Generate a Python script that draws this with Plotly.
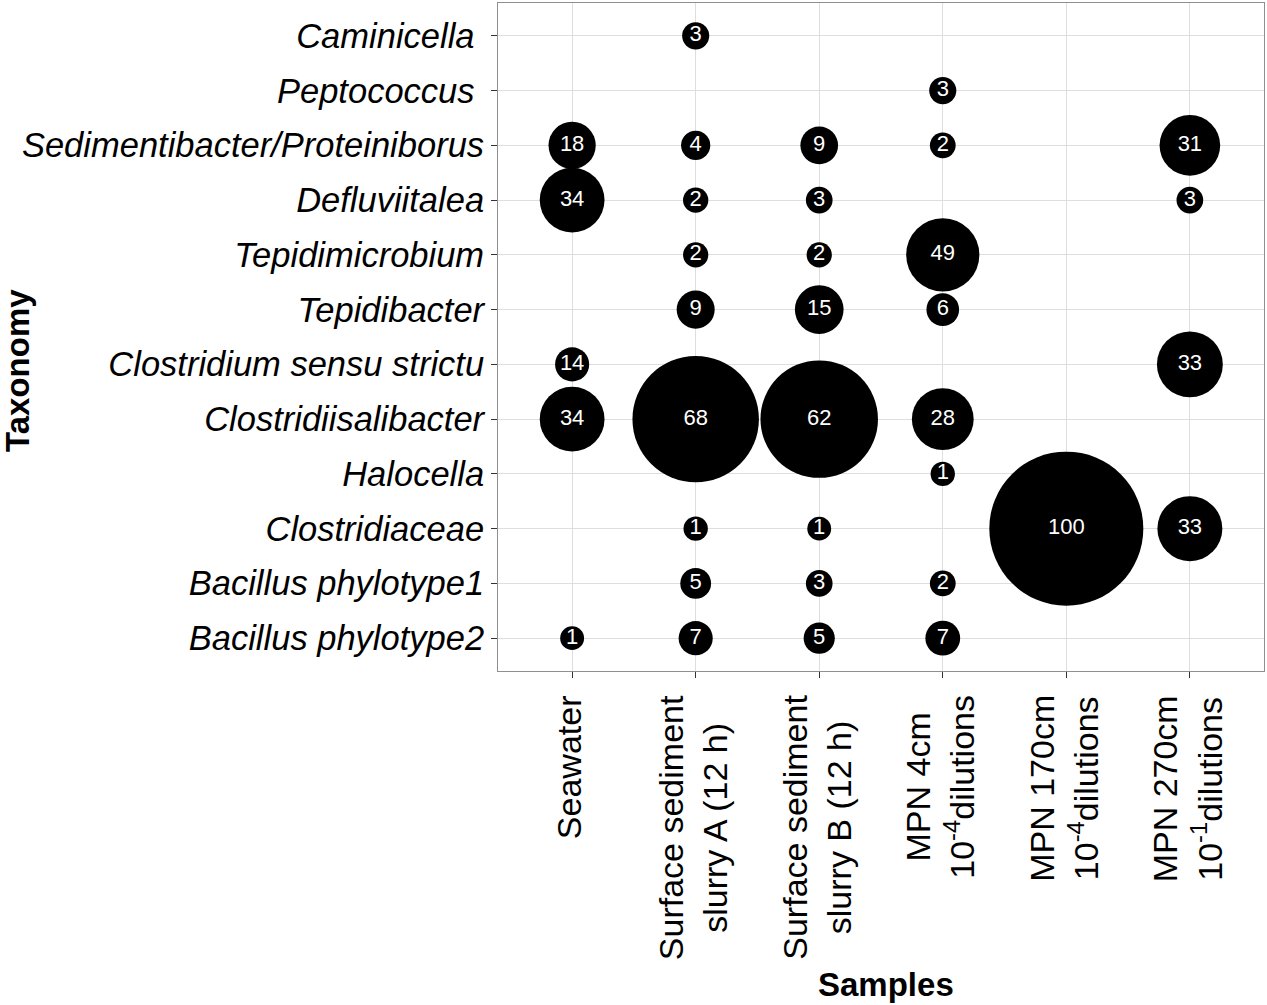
import plotly.graph_objects as go

# ---------------- data ----------------
samples = ["Seawater", "Surface sediment slurry A (12 h)", "Surface sediment slurry B (12 h)",
           "MPN 4cm 10-4 dilutions", "MPN 170cm 10-4 dilutions", "MPN 270cm 10-1 dilutions"]
sample_tick_labels = ["Seawater",
                      "Surface sediment<br>slurry A (12 h)",
                      "Surface sediment<br>slurry B (12 h)",
                      "MPN 4cm<br>10<sup>-4</sup>dilutions",
                      "MPN 170cm<br>10<sup>-4</sup>dilutions",
                      "MPN 270cm<br>10<sup>-1</sup>dilutions"]

# taxa, listed from top to bottom
taxa = ["Caminicella", "Peptococcus", "Sedimentibacter/Proteiniborus", "Defluviitalea",
        "Tepidimicrobium", "Tepidibacter", "Clostridium sensu strictu", "Clostridiisalibacter",
        "Halocella", "Clostridiaceae", "Bacillus phylotype1", "Bacillus phylotype2"]
taxa_tick_labels = ["Caminicella\u00a0", "Peptococcus\u00a0", "Sedimentibacter/Proteiniborus",
                    "Defluviitalea", "Tepidimicrobium", "Tepidibacter", "Clostridium sensu strictu",
                    "Clostridiisalibacter", "Halocella", "Clostridiaceae", "Bacillus phylotype1",
                    "Bacillus phylotype2"]

N = None
# percentage labels shown in the bubbles (rows = taxa, cols = samples)
caminicella          = [N, 3, N, N, N, N]
peptococcus          = [N, N, N, 3, N, N]
sedimentibacter      = [18, 4, 9, 2, N, 31]
defluviitalea        = [34, 2, 3, N, N, 3]
tepidimicrobium      = [N, 2, 2, 49, N, N]
tepidibacter         = [N, 9, 15, 6, N, N]
clostridium_ss       = [14, N, N, N, N, 33]
clostridiisalibacter = [34, 68, 62, 28, N, N]
halocella            = [N, N, N, 1, N, N]
clostridiaceae       = [N, 1, 1, N, 100, 33]
bacillus_1           = [N, 5, 3, 2, N, N]
bacillus_2           = [1, 7, 5, 7, N, N]
percent_rows = [caminicella, peptococcus, sedimentibacter, defluviitalea, tepidimicrobium,
                tepidibacter, clostridium_ss, clostridiisalibacter, halocella, clostridiaceae,
                bacillus_1, bacillus_2]

# quantity encoded by bubble area (no legend in source, max = 100)
w_caminicella          = [N, 3.1, N, N, N, N]
w_peptococcus          = [N, N, N, 3.1, N, N]
w_sedimentibacter      = [9.4, 3.6, 6.0, 2.8, N, 15.5]
w_defluviitalea        = [17.7, 2.7, 3.0, N, N, 3.0]
w_tepidimicrobium      = [N, 2.7, 2.7, 22.6, N, N]
w_tepidibacter         = [N, 6.1, 10.0, 4.5, N, N]
w_clostridium_ss       = [4.9, N, N, N, N, 18.3]
w_clostridiisalibacter = [17.7, 67.4, 58.2, 16.1, N, N]
w_halocella            = [N, N, N, 2.5, N, N]
w_clostridiaceae       = [N, 2.5, 2.4, N, 100, 17.8]
w_bacillus_1           = [N, 4.0, 3.0, 2.8, N, N]
w_bacillus_2           = [2.4, 4.9, 4.1, 5.1, N, N]
weight_rows = [w_caminicella, w_peptococcus, w_sedimentibacter, w_defluviitalea, w_tepidimicrobium,
               w_tepidibacter, w_clostridium_ss, w_clostridiisalibacter, w_halocella, w_clostridiaceae,
               w_bacillus_1, w_bacillus_2]

# ---------------- build ----------------
xs, ys, txt, ws = [], [], [], []
for t, prow, wrow in zip(taxa, percent_rows, weight_rows):
    for s, p, w in zip(samples, prow, wrow):
        if p is None:
            continue
        xs.append(s)
        ys.append(t)
        txt.append(str(p))
        ws.append(w)

MAX_D = 154
FONT = "Liberation Sans, Arial, Helvetica, sans-serif"

fig = go.Figure(go.Scatter(
    x=xs, y=ys, mode="markers+text", text=txt,
    textposition="middle center",
    textfont=dict(color="white", size=22, family=FONT),
    marker=dict(color="black", size=ws, sizemode="area",
                sizeref=2.0 * max(ws) / (MAX_D ** 2), line=dict(width=0), opacity=1),
    cliponaxis=False, hoverinfo="skip", showlegend=False,
))

W, H = 1267, 1005
ML, MR, MT, MB = 498, 3, 3, 334
pw, ph = W - ML - MR, H - MT - MB

annotations = []
for s, lab in zip(samples, sample_tick_labels):
    annotations.append(dict(
        x=s, xref="x", y=0, yref="paper", yanchor="top", xanchor="center",
        yshift=-22, xshift=-3, text=lab, textangle=-90, align="center", showarrow=False,
        font=dict(size=34, color="black", family=FONT)))
annotations.append(dict(text="<b>Taxonomy</b>", x=(17 - ML) / pw, xref="paper", xanchor="center",
                        y=(H - 371 - MB) / ph, yref="paper", yanchor="middle", textangle=-90,
                        showarrow=False, font=dict(size=33, color="black", family=FONT)))
annotations.append(dict(text="<b>Samples</b>", x=(886 - ML) / pw, xref="paper", xanchor="center",
                        y=(H - 985 - MB) / ph, yref="paper", yanchor="middle", showarrow=False,
                        font=dict(size=33, color="black", family=FONT)))

fig.update_layout(
    width=W, height=H, margin=dict(l=ML, r=MR, t=MT, b=MB, pad=0),
    paper_bgcolor="white", plot_bgcolor="white",
    font=dict(family=FONT, color="black"),
    annotations=annotations,
)
fig.update_xaxes(type="category", categoryorder="array", categoryarray=samples,
                 range=[-0.6, len(samples) - 0.4], showticklabels=False,
                 showgrid=True, gridcolor="#dedede", gridwidth=1,
                 showline=True, linecolor="#8f8f8f", linewidth=1, mirror=True,
                 ticks="outside", ticklen=6, tickwidth=1, tickcolor="#333333", zeroline=False)
fig.update_yaxes(type="category", categoryorder="array", categoryarray=taxa[::-1],
                 tickmode="array", tickvals=taxa, ticktext=taxa_tick_labels,
                 range=[-0.6, len(taxa) - 0.4],
                 tickfont=dict(size=34.5, color="black", family=FONT, style="italic"),
                 showgrid=True, gridcolor="#dedede", gridwidth=1,
                 showline=True, linecolor="#8f8f8f", linewidth=1, mirror=True,
                 ticks="outside", ticklen=6, tickwidth=1, tickcolor="#333333", zeroline=False)

fig.write_html("out.html", config={"displayModeBar": False},
               post_script="document.body.style.margin='0';")
